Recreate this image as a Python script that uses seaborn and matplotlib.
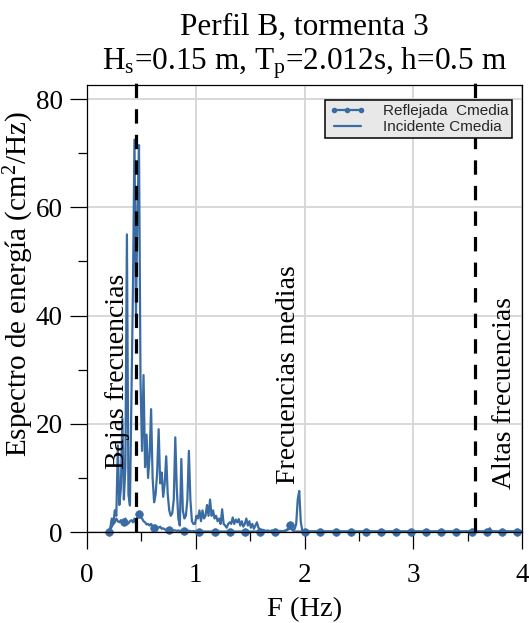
import numpy as np
import seaborn as sns
import matplotlib.pyplot as plt
from matplotlib.lines import Line2D


# frequency bins of the spectrum (Hz)
f_start = 0.2
f_step = 0.0139

# incident spectrum, cm^2/Hz (one row = 10 bins)
incidente = [
    0.2, 0.8, 2.5, 1.5, 4.0, 3.0, 16.0, 5.0, 8.0, 21.0,
    6.0, 12.0, 55.0, 7.0, 4.9, 25.0, 45.0, 72.5, 40.0, 60.0,
    71.5, 28.0, 15.0, 29.0, 12.0, 18.0, 10.0, 14.0, 22.7, 10.0,
    5.5, 7.0, 11.0, 19.0, 9.0, 11.0, 6.5, 9.0, 14.0, 7.0,
    4.0, 3.0, 3.5, 6.0, 17.5, 8.0, 2.5, 1.2, 13.5, 4.0,
    2.5, 3.0, 6.0, 15.0, 6.0, 2.0, 1.5, 1.5, 3.0, 2.5,
    4.0, 2.0, 4.0, 2.5, 3.0, 5.0, 3.0, 6.0, 3.0, 4.0,
    2.5, 3.0, 2.0, 2.5, 1.5, 4.2, 1.5, 1.2, 0.8, 1.5,
    1.8, 1.5, 2.7, 1.5, 2.3, 1.8, 2.4, 1.2, 2.0, 1.0,
    1.5, 2.5, 1.2, 2.0, 0.8, 1.5, 0.6, 1.2, 1.8, 0.8,
    0.5, 0.3, 0.4, 0.3, 0.2, 0.3, 0.2, 0.2, 0.3, 0.2,
    0.2, 0.2, 0.1, 0.2, 0.2, 0.1, 0.2, 0.3, 0.4, 0.5,
    0.8, 0.5, 0.4, 0.6, 1.5, 6.0, 7.6, 2.0, 0.2, 0.2,
    0.1, 0.1, 0.2, 0.1, 0.1, 0.1, 0.1, 0.1, 0.1, 0.1,
    0.1, 0.1, 0.1, 0.1, 0.1, 0.1, 0.1, 0.1, 0.1, 0.1,
    0.1, 0.1, 0.1, 0.1, 0.1, 0.1, 0.1, 0.1, 0.1, 0.1,
    0.1, 0.1, 0.1, 0.1, 0.1, 0.1, 0.1, 0.1, 0.1, 0.1,
    0.1, 0.1, 0.1, 0.1, 0.1, 0.1, 0.1, 0.1, 0.1, 0.1,
    0.1, 0.1, 0.1, 0.1, 0.1, 0.1, 0.1, 0.1, 0.1, 0.1,
    0.1, 0.1, 0.1, 0.1, 0.1, 0.1, 0.1, 0.1, 0.1, 0.1,
    0.1, 0.1, 0.1, 0.1, 0.1, 0.1, 0.1, 0.1, 0.1, 0.1,
    0.1, 0.1, 0.1, 0.1, 0.1, 0.1, 0.1, 0.1, 0.1, 0.1,
    0.1, 0.1, 0.1, 0.1, 0.1, 0.1, 0.1, 0.1, 0.1, 0.1,
    0.1, 0.1, 0.1, 0.1, 0.1, 0.1, 0.1, 0.1, 0.1, 0.1,
    0.1, 0.1, 0.1, 0.1, 0.1, 0.1, 0.1, 0.1, 0.1, 0.1,
    0.1, 0.3, 0.7, 0.3, 0.1, 0.1, 0.1, 0.1, 0.1, 0.1,
    0.1, 0.1, 0.1, 0.1, 0.1, 0.1, 0.1, 0.1, 0.1, 0.1,
    0.1, 0.1, 0.1, 0.1,
]

# reflected spectrum, cm^2/Hz
reflejada = [
    0.1, 0.5, 1.0, 1.5, 1.8, 2.5, 2.0, 1.8, 2.2, 1.5,
    1.8, 2.5, 1.5, 1.6, 2.0, 2.2, 1.8, 2.5, 1.5, 3.0,
    3.3, 2.8, 2.5, 2.0, 1.8, 1.4, 1.5, 1.2, 1.5, 1.0,
    0.8, 1.2, 0.9, 0.8, 1.0, 0.6, 0.7, 0.5, 0.4, 0.5,
    0.4, 0.3, 0.4, 0.3, 0.3, 0.2, 0.3, 0.2, 0.2, 0.3,
    0.2, 0.2, 0.3, 0.2, 0.2, 0.1, 0.2, 0.1, 0.2, 0.1,
    0.1, 0.1, 0.1, 0.1, 0.1, 0.1, 0.1, 0.1, 0.1, 0.1,
    0.1, 0.1, 0.1, 0.1, 0.1, 0.1, 0.1, 0.1, 0.1, 0.1,
    0.1, 0.1, 0.1, 0.1, 0.1, 0.1, 0.1, 0.1, 0.1, 0.1,
    0.1, 0.1, 0.1, 0.1, 0.1, 0.1, 0.1, 0.1, 0.1, 0.1,
    0.1, 0.1, 0.1, 0.1, 0.1, 0.1, 0.1, 0.1, 0.1, 0.1,
    0.1, 0.1, 0.1, 0.1, 0.1, 0.1, 0.2, 0.2, 0.4, 0.9,
    1.3, 0.6, 0.2, 0.1, 0.1, 0.1, 0.1, 0.1, 0.1, 0.1,
    0.1, 0.1, 0.1, 0.1, 0.1, 0.1, 0.1, 0.1, 0.1, 0.1,
    0.1, 0.1, 0.1, 0.1, 0.1, 0.1, 0.1, 0.1, 0.1, 0.1,
    0.1, 0.1, 0.1, 0.1, 0.1, 0.1, 0.1, 0.1, 0.1, 0.1,
    0.1, 0.1, 0.1, 0.1, 0.1, 0.1, 0.1, 0.1, 0.1, 0.1,
    0.1, 0.1, 0.1, 0.1, 0.1, 0.1, 0.1, 0.1, 0.1, 0.1,
    0.1, 0.1, 0.1, 0.1, 0.1, 0.1, 0.1, 0.1, 0.1, 0.1,
    0.1, 0.1, 0.1, 0.1, 0.1, 0.1, 0.1, 0.1, 0.1, 0.1,
    0.1, 0.1, 0.1, 0.1, 0.1, 0.1, 0.1, 0.1, 0.1, 0.1,
    0.1, 0.1, 0.1, 0.1, 0.1, 0.1, 0.1, 0.1, 0.1, 0.1,
    0.1, 0.1, 0.1, 0.1, 0.1, 0.1, 0.1, 0.1, 0.1, 0.1,
    0.1, 0.1, 0.1, 0.1, 0.1, 0.1, 0.1, 0.1, 0.1, 0.1,
    0.1, 0.1, 0.1, 0.1, 0.1, 0.1, 0.1, 0.1, 0.1, 0.1,
    0.1, 0.2, 0.4, 0.2, 0.1, 0.1, 0.1, 0.1, 0.1, 0.1,
    0.1, 0.1, 0.1, 0.1, 0.1, 0.1, 0.1, 0.1, 0.1, 0.1,
    0.1, 0.1, 0.1, 0.1,
]

# band limits (Hz) and band names
limites = [0.45, 3.57]
bandas = ["Bajas frecuencias", "Frecuencias medias", "Altas frecuencias"]
bandas_x = [0.276, 1.85, 3.84]
bandas_y = [11.6, 8.9, 8.0]

freq = f_start + f_step * np.arange(len(incidente))

sns.set_theme(style="whitegrid")
plt.rcParams["font.family"] = ["Liberation Serif", "DejaVu Serif"]
plt.rcParams["mathtext.fontset"] = "custom"
plt.rcParams["mathtext.rm"] = "Liberation Serif"
plt.rcParams["mathtext.it"] = "Liberation Serif:italic"

color = "#3a6ca3"

fig = plt.figure(figsize=(5.29, 6.23), dpi=100)
ax = fig.add_axes([0.1645, 0.146, 0.8223, 0.7175])

sns.lineplot(x=freq, y=reflejada, ax=ax, color=color, lw=1.6, clip_on=False,
             marker="o", markersize=5.5, markeredgewidth=0.5, markeredgecolor=color,
             markevery=10)
sns.lineplot(x=freq, y=incidente, ax=ax, color=color, lw=1.6, clip_on=False)

# band limits
ax.vlines(limites, 0, 84, colors="black", lw=2.3,
          linestyles=(0, (4.5, 3.5)), clip_on=False, zorder=5)
for name, bx, by in zip(bandas, bandas_x, bandas_y):
    ax.text(bx, by, name, rotation=90, ha="center", va="bottom", fontsize=20, color="black")

ax.set_xlim(0, 4)
ax.set_ylim(0, 82.6)
ax.set_xticks([0, 1, 2, 3, 4])
ax.set_yticks([0, 20, 40, 60, 80])
ax.set_xticks(np.arange(0, 4.01, 0.5), minor=True)
ax.set_yticks(np.arange(0, 81, 10), minor=True)
ax.tick_params(axis="both", which="both", direction="out", left=True, bottom=True,
               labelsize=19.5, color="black", labelcolor="black", width=0.9)
ax.tick_params(axis="both", which="major", length=12.5)
ax.tick_params(axis="both", which="minor", length=6.5)
ax.tick_params(axis="x", which="major", pad=10)
ax.tick_params(axis="y", which="major", pad=5)
ax.grid(True, which="major", color="#d6d6d6", lw=1.3)
ax.grid(False, which="minor")
for s in ax.spines.values():
    s.set_color("black")
    s.set_linewidth(0.9)

ax.set_xlabel("F (Hz)", fontsize=20.5, color="black", labelpad=6)
ax.set_ylabel("Espectro de energía (cm$^2$/Hz)", fontsize=21, color="black")
ax.yaxis.set_label_coords(-0.118, 0.555)
ax.set_title("Perfil B, tormenta 3\nH$_\\mathrm{s}$=0.15 m, T$_\\mathrm{p}$=2.012s, h=0.5 m",
             fontsize=22.5, color="black", pad=11, linespacing=1.15)

handles = [
    Line2D([], [], color=color, lw=1.6, marker="o", markersize=4, markeredgewidth=0),
    Line2D([], [], color=color, lw=1.6),
]
leg = ax.legend(handles, ["Reflejada  Cmedia", "Incidente Cmedia"],
                loc="upper right", bbox_to_anchor=(0.977, 0.966), borderaxespad=0,
                numpoints=3, fancybox=False, framealpha=1, facecolor="#e8e8e8",
                edgecolor="black", prop={"family": "Liberation Sans", "size": 11},
                handlelength=2.4, borderpad=0.25, labelspacing=0.15, handletextpad=1.1)
leg.get_frame().set_linewidth(1.1)

plt.savefig("out.png", dpi=100)
